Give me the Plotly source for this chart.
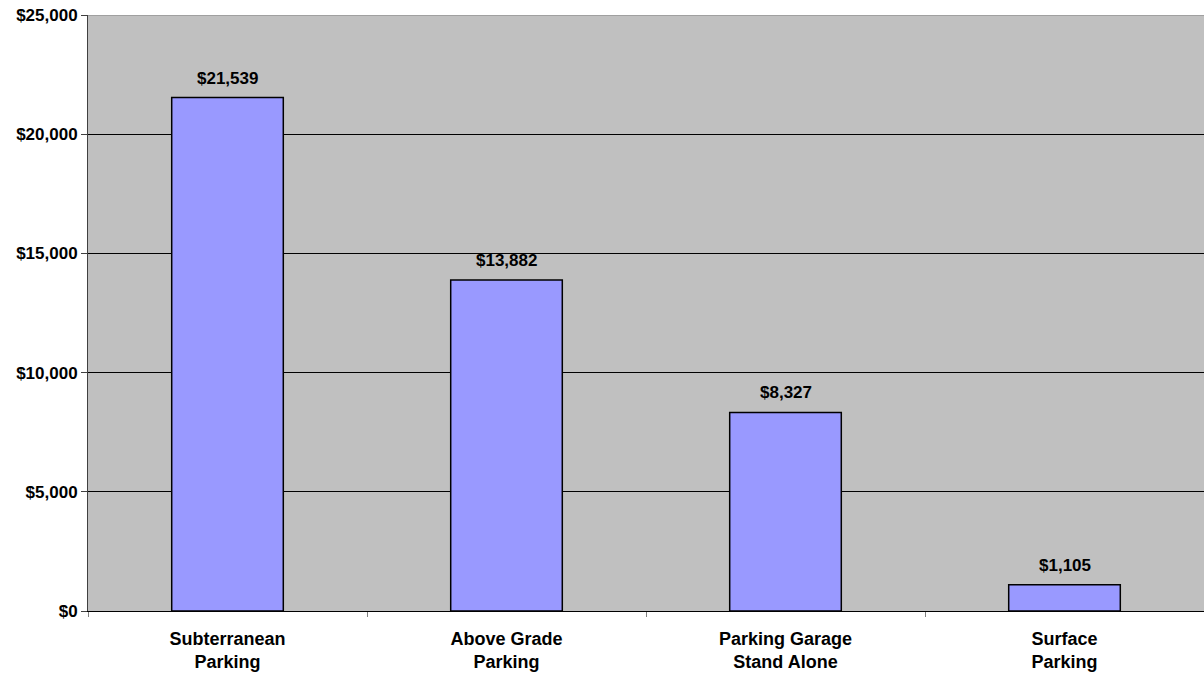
import plotly.graph_objects as go

categories = ["Subterranean<br>Parking", "Above Grade<br>Parking", "Parking Garage<br>Stand Alone", "Surface<br>Parking"]
values = [21539, 13882, 8327, 1105]
value_labels = ["$21,539", "$13,882", "$8,327", "$1,105"]
tick_vals = [0, 5000, 10000, 15000, 20000, 25000]
tick_text = ["$0", "$5,000", "$10,000", "$15,000", "$20,000", "$25,000"]

FONT = "Liberation Sans, Arial, sans-serif"

fig = go.Figure()
fig.add_trace(go.Bar(
    x=categories, y=values,
    marker=dict(color="#9999FF", line=dict(color="#000000", width=1.5)),
    width=0.4, hoverinfo="skip",
))
for c, v, t in zip(categories, values, value_labels):
    fig.add_annotation(x=c, y=v, text=t, showarrow=False, yanchor="bottom", yshift=8,
                       font=dict(family=FONT, size=17, color="#000000", weight="bold"))

fig.update_layout(
    width=1204, height=673,
    margin=dict(l=88, r=0, t=15, b=62),
    paper_bgcolor="#FFFFFF",
    plot_bgcolor="#C0C0C0",
    showlegend=False,
    bargap=0.6,
    xaxis=dict(
        type="category", tickson="boundaries", ticks="outside", ticklen=5, tickcolor="#808080",
        showline=True, linecolor="#000000", linewidth=1, showgrid=False,
        tickfont=dict(family=FONT, size=18, color="#000000", weight="bold"),
        range=[-0.5, 3.5], automargin=False, ticklabelstandoff=11,
    ),
    yaxis=dict(
        range=[0, 25000], tickvals=tick_vals, ticktext=tick_text,
        ticks="outside", ticklen=6, tickcolor="#404040",
        showline=True, linecolor="#404040", linewidth=1,
        showgrid=True, gridcolor="#000000", gridwidth=1,
        zeroline=False, automargin=False,
        tickfont=dict(family=FONT, size=17, color="#000000", weight="bold"),
    ),
)
fig.add_shape(type="line", xref="paper", yref="y", x0=0, x1=1, y0=25000, y1=25000,
              line=dict(color="#808080", width=1))

post = ("document.body.style.margin='0';document.body.style.padding='0';"
        "document.body.style.overflow='hidden';"
        "Plotly.relayout('{plot_id}', {width:1204, height:673});")
fig.write_html("out.html", post_script=post, config={"displayModeBar": False})
